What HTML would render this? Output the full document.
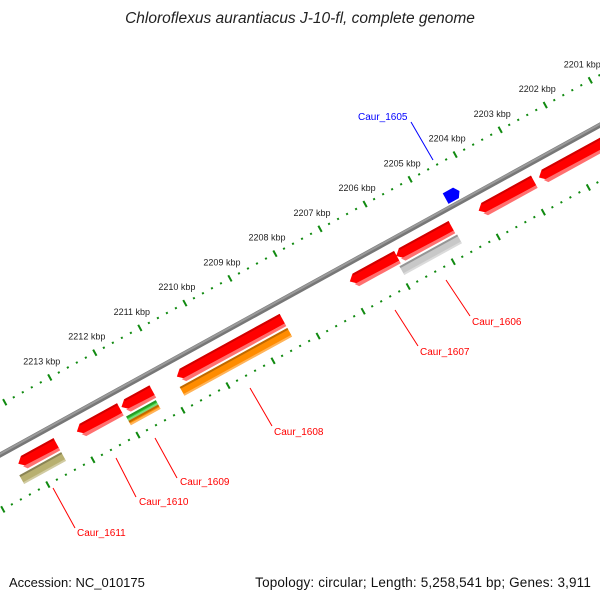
<!DOCTYPE html>
<html><head><meta charset="utf-8"><style>
html,body{margin:0;padding:0;background:#fff}
svg{display:block}
text{font-family:"Liberation Sans","DejaVu Sans",sans-serif}
</style></head><body>
<svg id="chart" width="600" height="600" viewBox="0 0 600 600" xmlns="http://www.w3.org/2000/svg">
<text x="300" y="23" text-anchor="middle" font-size="15.5" font-style="italic" fill="#222">Chloroflexus aurantiacus J-10-fl, complete genome</text>
<g id="rot" transform="translate(0,455) rotate(-28.8)"></g>
<g id="labels"></g>
<text x="9" y="587" font-size="13" fill="#111">Accession: NC_010175</text>
<text x="591" y="587" text-anchor="end" font-size="13.5" letter-spacing="0.15" fill="#111">Topology: circular; Length: 5,258,541 bp; Genes: 3,911</text>
</svg>
<script>
const tickLabels = [2201,2202,2203,2204,2205,2206,2207,2208,2209,2210,2211,2212,2213];
const geneNames = ["R1","R2","R3","R4","R5","R6","R7","R8","khaki","green","orangeS","orangeL","gray","blue"];
const geneStart = [2213.84,2212.54,2211.55,2210.32,2206.48,2205.45,2203.62,2202.28,2213.93,2211.56,2211.56,2210.37,2205.49,2204.07];
const geneEnd   = [2213.0,2211.59,2210.87,2207.98,2205.44,2204.23,2202.40,2200.26,2213.0,2210.90,2210.90,2207.98,2204.21,2203.84];
const geneRow   = ["red","red","red","red","red","red","red","red","cog","cogTop","cogBot","cog","cog","up"];
const geneColor = ["#ff0000","#ff0000","#ff0000","#ff0000","#ff0000","#ff0000","#ff0000","#ff0000","#b8b070","#33cc33","#ff8c00","#ff8c00","#c8c8c8","#0000ff"];
const annoNames = ["Caur_1605","Caur_1606","Caur_1607","Caur_1608","Caur_1609","Caur_1610","Caur_1611"];
const annoColor = ["#0000ff","#ff0000","#ff0000","#ff0000","#ff0000","#ff0000","#ff0000"];

const NS="http://www.w3.org/2000/svg";
const TH=28.8*Math.PI/180, C=Math.cos(TH), S=Math.sin(TH);
const PX=51.4;
function uOuter(k){return 81+(2213-k)*PX;}
function uInner(k){return 27.7+(2213-k)*PX;}
function uGene(k){return 55+(2213-k)*PX;}
function scr(u,v){return [u*C+v*S, 455-u*S+v*C];}
const rot=document.getElementById('rot');
const lab=document.getElementById('labels');
function mk(tag,attrs,parent){const e=document.createElementNS(NS,tag);for(const k in attrs)e.setAttribute(k,attrs[k]);parent.appendChild(e);return e;}

let bb=mk('line',{x1:-200,y1:0,x2:900,y2:0,stroke:'#777','stroke-width':5},rot);


let bb2=mk('line',{x1:-200,y1:-1,x2:900,y2:-1,stroke:'#9a9a9a','stroke-width':2},rot);



for(let i=0;i<=80;i++){
  const k=2199+i*0.2;
  const major=Math.abs(k-Math.round(k))<0.01;
  [[uOuter(k),-44],[uInner(k),49]].forEach(([u,v])=>{
    let t;
    if(major) t=mk('rect',{x:u-1,y:v-3.5,width:2,height:7,fill:'#108a10'},rot);
    else t=mk('rect',{x:u-1,y:v-1,width:2,height:2,fill:'#108a10'},rot);
    
    
  });
}
tickLabels.forEach(k=>{
  const [x,y]=scr(uOuter(k),-44);
  const t=mk('text',{x:x-8,y:y-13,'text-anchor':'middle','font-size':9,fill:'#222'},lab);
  t.textContent=k+' kbp';
  
  
});

const rows={red:[11,22],cog:[27,37],cogTop:[27,32],cogBot:[32,37],up:[-16,-4]};
geneNames.forEach((n,i)=>{
  let u0=uGene(geneStart[i]),u1=uGene(geneEnd[i]);
  if(u0>u1){const t=u0;u0=u1;u1=t;}
  const [v0,v1]=rows[geneRow[i]];
  const g=mk('g',{},rot);
  
  
  if(geneRow[i]==='red'){
    const vc=(v0+v1)/2;
    mk('polygon',{points:`${u0},${vc} ${u0+6},${v0} ${u1},${v0} ${u1},${v1} ${u0+6},${v1}`,fill:geneColor[i]},g);
    mk('polygon',{points:`${u0+3},${v1-1} ${u0+6},${v1+3} ${u1},${v1+3} ${u1},${v1}`,fill:'#ff7070'},g);
    mk('line',{x1:u0+6,y1:v0+1,x2:u1,y2:v0+1,stroke:'#d00000','stroke-width':2},g);
  } else if(geneRow[i]==='up'){
    const vc=(v0+v1)/2;
    mk('polygon',{points:`${u0},${v0} ${u1},${v0} ${u1+4},${vc} ${u1},${v1} ${u0},${v1}`,fill:geneColor[i]},g);
  } else {
    mk('rect',{x:u0,y:v0,width:u1-u0,height:v1-v0,fill:geneColor[i]},g);
    mk('rect',{x:u0,y:v0,width:u1-u0,height:2,fill:'rgba(0,0,0,0.25)'},g);
    mk('rect',{x:u0,y:v1-2,width:u1-u0,height:2,fill:'rgba(255,255,255,0.35)'},g);
  }
});

const annoLine=[[411,122,433,160],[446,280,470,316],[395,310,418,346],[250,388,272,426],[155,438,177,478],[116,458,136,497],[53,488,75,528]];
const annoText=[[358,120],[472,325],[420,355],[274,435],[180,485],[139,505],[77,536]];
annoNames.forEach((n,i)=>{
  const [a,b,c,d]=annoLine[i];
  const l=mk('line',{x1:a,y1:b,x2:c,y2:d,stroke:annoColor[i],'stroke-width':1},lab);
  
  
  const t=mk('text',{x:annoText[i][0],y:annoText[i][1],'font-size':10,fill:annoColor[i]},lab);
  t.textContent=n;
  
  
});
</script>
</body></html>
